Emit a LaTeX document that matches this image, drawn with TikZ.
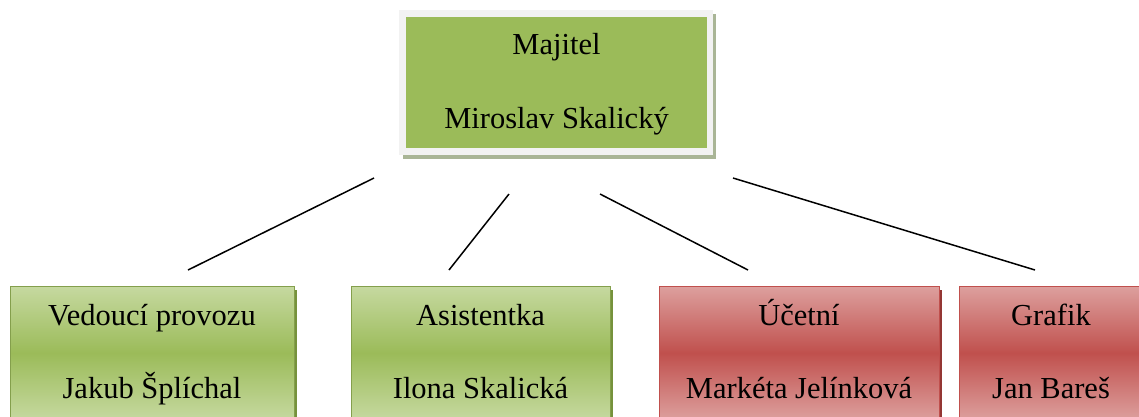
\documentclass[tikz,border=0pt]{standalone}
\usepackage{fontspec}
\setmainfont{Liberation Serif}
\definecolor{grmid}{HTML}{9BBB59}
\definecolor{grlight}{HTML}{C6D9A0}
\definecolor{grdark}{HTML}{76923C}
\definecolor{rdmid}{HTML}{C0504D}
\definecolor{rdlight}{HTML}{DDA09E}
\definecolor{rddark}{HTML}{943634}
\definecolor{frame}{HTML}{F2F2F2}
\definecolor{shadowgr}{HTML}{A9B596}
\tikzset{
  lbl/.style={font=\fontsize{30.5}{33}\selectfont, text=black, inner sep=0pt, anchor=base},
  greenbox/.style={top color=grlight, bottom color=grlight, middle color=grmid, draw=grmid!85!black, line width=1pt},
  redbox/.style={top color=rdlight, bottom color=rdlight, middle color=rdmid, draw=rdmid, line width=1pt},
  conn/.style={draw=black, line width=1.5pt},
}
\begin{document}
\begin{tikzpicture}[x=1pt,y=-1pt]
\useasboundingbox (0,0) rectangle (1139,416);
% top box
\fill[shadowgr] (403,14) rectangle (716,159);
\fill[frame] (399,10) rectangle (713,155);
\fill[grmid] (406,17) rectangle (707,148);
\node[lbl] (top1) at (556.5,54) {Majitel};
\node[lbl] (top2) at (556.5,128) {Miroslav Skalický};
% bottom boxes
\fill[grdark] (294,290) rectangle (297,420);
\path[greenbox] (10,286) rectangle (294,420);
\node[lbl] (b1a) at (152,325) {Vedoucí provozu};
\node[lbl] (b1b) at (152,398) {Jakub Šplíchal};
\fill[grdark] (610,290) rectangle (613,420);
\path[greenbox] (351,286) rectangle (610,420);
\node[lbl] (b2a) at (480.5,325) {Asistentka};
\node[lbl] (b2b) at (480.5,398) {Ilona Skalická};
\fill[rddark] (939,290) rectangle (942,420);
\path[redbox] (659,286) rectangle (939,420);
\node[lbl] (b3a) at (799,325) {Účetní};
\node[lbl] (b3b) at (799,398) {Markéta Jelínková};
\path[redbox] (959,286) rectangle (1145,420);
\node[lbl] (b4a) at (1051,325) {Grafik};
\node[lbl] (b4b) at (1051,398) {Jan Bareš};
% connector ends
\coordinate (s1) at (374,178);
\coordinate (e1) at (188,270);
\coordinate (s2) at (509,194);
\coordinate (e2) at (449,270);
\coordinate (s3) at (600,194);
\coordinate (e3) at (748,270);
\coordinate (s4) at (733,178);
\coordinate (e4) at (1035,270);
\draw[conn] (s1) -- (e1);
\draw[conn] (s2) -- (e2);
\draw[conn] (s3) -- (e3);
\draw[conn] (s4) -- (e4);
\end{tikzpicture}
\end{document}
